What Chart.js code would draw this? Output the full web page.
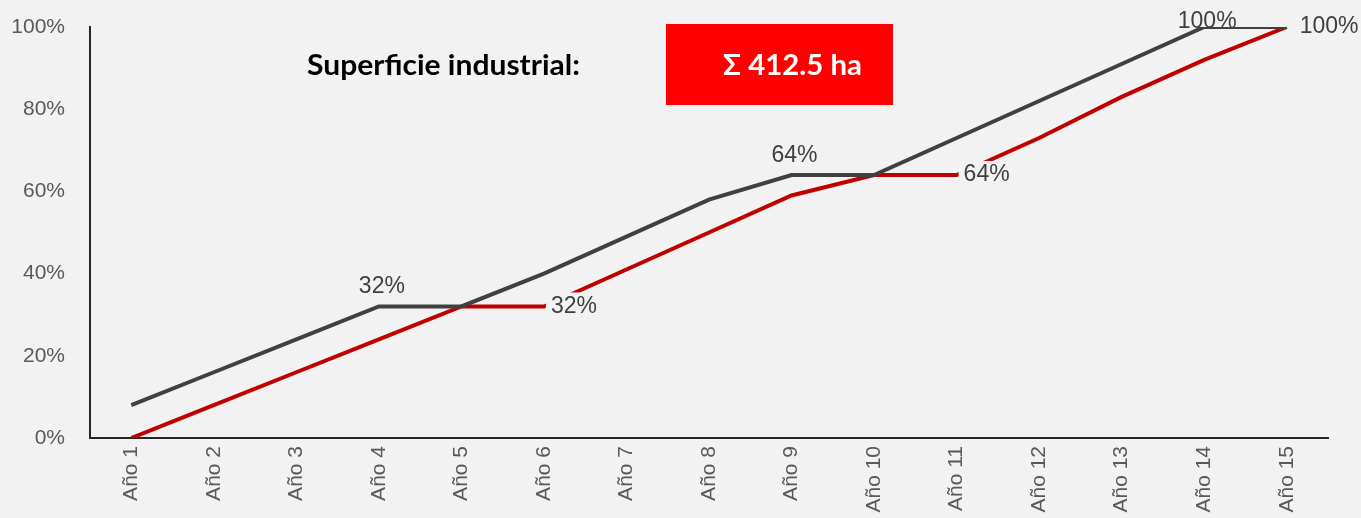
<!DOCTYPE html>
<html>
<head>
<meta charset="utf-8">
<script src="https://cdn.jsdelivr.net/npm/chart.js@4.4.0/dist/chart.umd.min.js"></script>
<style>
    html, body { margin: 0; padding: 0; background: #f2f2f2; }
    #wrap { position: relative; width: 1361px; height: 518px; }
    #chart { position: absolute; left: 0; top: 0; }
    .fit { position: absolute; white-space: nowrap; font-family: Lato, "Open Sans", sans-serif; font-weight: bold; transform-origin: 0 0; }
    #title { left: 307px; top: 47px; font-size: 28px; color: #000; }
    #box { position: absolute; left: 666px; top: 24px; width: 227px; height: 81px; background: #ff0000; }
    #total { left: 723px; top: 47px; font-size: 28px; color: #fff; }
</style>
</head>
<body>
<div id="wrap">
    <canvas id="chart" width="1361" height="518"></canvas>
    <div id="box"></div>
    <span class="fit" id="title" data-w="273">Superficie industrial:</span>
    <span class="fit" id="total" data-w="139">Σ 412.5 ha</span>
</div>
<script>
// Chart data
const years = ['Año 1', 'Año 2', 'Año 3', 'Año 4', 'Año 5', 'Año 6', 'Año 7', 'Año 8',
    'Año 9', 'Año 10', 'Año 11', 'Año 12', 'Año 13', 'Año 14', 'Año 15'];
const grayValues = [8, 16, 24, 32, 32, 40, 49, 58, 64, 64, 73, 82, 91, 100, 100];
const redValues = [0, 8, 16, 24, 32, 32, 41, 50, 59, 64, 64, 73, 83, 92, 100];
const yTicks = [0, 20, 40, 60, 80, 100];

// Which points carry a value label
const grayLabelIdx = [3, 8, 13];
const redLabelIdx = [5, 10, 14];

const labelFont = '23px "Liberation Sans", Arial, sans-serif';

// Draw the value labels (above for gray, right side for red)
const valueLabels = {
    id: 'valueLabels',
    afterDatasetsDraw(chart) {
        const ctx = chart.ctx;
        ctx.save();
        ctx.font = labelFont;
        ctx.fillStyle = '#404040';

        const grayMeta = chart.getDatasetMeta(0);
        ctx.textAlign = 'center';
        ctx.textBaseline = 'alphabetic';
        grayLabelIdx.forEach(i => {
            const pt = grayMeta.data[i];
            const y = Math.max(pt.y - 13, 28);
            ctx.fillText(grayValues[i] + '%', pt.x + 3, y);
        });

        const redMeta = chart.getDatasetMeta(1);
        ctx.textAlign = 'left';
        ctx.textBaseline = 'middle';
        redLabelIdx.forEach(i => {
            const pt = redMeta.data[i];
            const text = redValues[i] + '%';
            const w = ctx.measureText(text).width;
            const dx = i === 14 ? 13 : 7;
            ctx.fillStyle = '#f2f2f2';
            ctx.fillRect(pt.x + 2, pt.y - 14, w + dx + 2, 28);
            ctx.fillStyle = '#404040';
            ctx.fillText(text, pt.x + dx, pt.y);
        });
        ctx.restore();
    }
};

const chart = new Chart(document.getElementById('chart'), {
    type: 'line',
    data: {
        labels: years,
        datasets: [{
            data: grayValues,
            borderColor: '#404040',
            borderWidth: 4,
            pointRadius: 0,
            tension: 0
        }, {
            data: redValues,
            borderColor: '#c00000',
            borderWidth: 4,
            pointRadius: 0,
            tension: 0
        }]
    },
    options: {
        responsive: false,
        animation: false,
        layout: { padding: { left: 0, top: 27, right: 33, bottom: 0 } },
        plugins: {
            legend: { display: false },
            tooltip: { enabled: false }
        },
        scales: {
            x: {
                offset: true,
                grid: { display: false, drawTicks: false },
                border: { display: true, color: '#262626', width: 2 },
                ticks: {
                    minRotation: 90,
                    maxRotation: 90,
                    padding: 8,
                    color: '#595959',
                    font: { family: '"Liberation Sans", Arial, sans-serif', size: 21 }
                },
                afterFit: s => { s.height = 80; }
            },
            y: {
                min: 0,
                max: 100,
                grid: { display: false, drawTicks: false },
                border: { display: true, color: '#262626', width: 2 },
                afterBuildTicks: s => { s.ticks = yTicks.map(v => ({ value: v })); },
                ticks: {
                    padding: 25,
                    color: '#595959',
                    font: { family: '"Liberation Sans", Arial, sans-serif', size: 21 },
                    callback: v => v + '%'
                },
                afterFit: s => {
                    s.width = 90;
                    s.paddingTop = 0;
                    s.paddingBottom = 0;
                }
            }
        }
    },
    plugins: [valueLabels]
});

// Squeeze the overlay texts to the widths seen in the picture
document.querySelectorAll('.fit').forEach(el => {
    const w = el.getBoundingClientRect().width;
    el.style.transform = 'scaleX(' + (parseFloat(el.dataset.w) / w) + ')';
});
</script>
</body>
</html>
